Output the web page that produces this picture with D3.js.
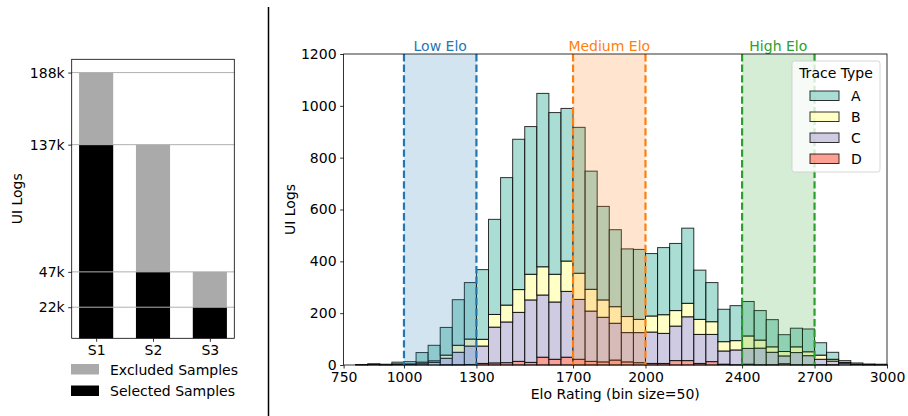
<!DOCTYPE html>
<html>
<head>
<meta charset="utf-8">
<script src="https://cdn.jsdelivr.net/npm/d3@7"></script>
<style>
  body { margin: 0; background: #fff; }
  svg text { font-family: "DejaVu Sans", sans-serif; fill: #000; }
</style>
</head>
<body>
<div id="chart"></div>
<script>
// ---- left panel data ----
var sampleNames = ["S1", "S2", "S3"];
var selectedLogs = [137000, 47000, 22000];
var totalLogs = [188000, 137000, 47000];
var leftTicks = [22000, 47000, 137000, 188000];
var leftTickLabels = ["22k", "47k", "137k", "188k"];
var leftLegend = ["Excluded Samples", "Selected Samples"];

// ---- right panel data (elo histogram, bin size 50) ----
var binStart = [800, 850, 900, 950, 1000, 1050, 1100, 1150, 1200, 1250, 1300, 1350, 1400, 1450, 1500,
    1550, 1600, 1650, 1700, 1750, 1800, 1850, 1900, 1950, 2000, 2050, 2100, 2150, 2200, 2250,
    2300, 2350, 2400, 2450, 2500, 2550, 2600, 2650, 2700, 2750, 2800, 2850, 2900, 2950];
var traceA = [1, 3, 2, 7, 9, 37, 60, 107, 176, 218, 269, 367, 492, 580, 570,
    669, 624, 589, 563, 456, 361, 297, 261, 270, 241, 259, 259, 290, 190, 151,
    125, 135, 133, 114, 105, 65, 72, 88, 48, 27, 7, 5, 2, 2];
var traceB = [0, 0, 0, 1, 1, 6, 6, 12, 27, 27, 26, 49, 65, 88, 99,
    109, 107, 117, 101, 84, 67, 64, 62, 51, 62, 72, 60, 52, 58, 49,
    36, 36, 48, 31, 21, 17, 22, 15, 16, 7, 3, 1, 1, 0];
var traceC = [1, 2, 1, 3, 3, 5, 10, 25, 48, 71, 67, 138, 157, 189, 241,
    240, 221, 254, 231, 194, 172, 142, 113, 116, 121, 116, 133, 169, 112, 105,
    51, 57, 61, 64, 48, 30, 47, 35, 21, 14, 7, 2, 1, 1];
var traceD = [0, 0, 0, 0, 0, 0, 0, 1, 1, 2, 6, 8, 9, 14, 10,
    30, 22, 30, 22, 14, 12, 19, 12, 9, 6, 6, 17, 17, 6, 13,
    3, 1, 3, 1, 1, 5, 1, 1, 1, 1, 0, 0, 0, 0];
var traceKeys = ["A", "B", "C", "D"];
var traceColors = ["#8dd3c7", "#ffffb3", "#bebada", "#fb8072"];
var eloBands = ["Low Elo", "Medium Elo", "High Elo"];
var bandFrom = [1000, 1700, 2400];
var bandTo = [1300, 2000, 2700];
var bandColors = ["#1f77b4", "#ff7f0e", "#2ca02c"];
var eloTicks = [750, 1000, 1300, 1700, 2000, 2400, 2700, 3000];
var countTicks = [0, 200, 400, 600, 800, 1000, 1200];

var W = 908, H = 416, fs = 14;

var svg = d3.select("#chart").append("svg")
    .attr("width", W)
    .attr("height", H);

// ================= left panel =================
var L = {left: 71.7, right: 234.3, top: 59.3, bottom: 338.3};

var lx = d3.scaleLinear().domain([-0.43, 2.43]).range([L.left, L.right]);
var ly = d3.scaleLinear().domain([0, 188000 * 1.05]).range([L.bottom, L.top]);
var barW = lx(0.6) - lx(0);

var left = svg.append("g");

sampleNames.forEach(function (s, i) {
    left.append("rect")
        .attr("x", lx(i) - barW / 2)
        .attr("y", ly(totalLogs[i]))
        .attr("width", barW)
        .attr("height", ly(selectedLogs[i]) - ly(totalLogs[i]))
        .attr("fill", "#aaaaaa");
    left.append("rect")
        .attr("x", lx(i) - barW / 2)
        .attr("y", ly(selectedLogs[i]))
        .attr("width", barW)
        .attr("height", ly(0) - ly(selectedLogs[i]))
        .attr("fill", "#000");
});

// grid on top of bars
left.append("g").selectAll("line")
    .data(leftTicks)
    .enter().append("line")
    .attr("x1", L.left).attr("x2", L.right)
    .attr("y1", function (d) { return ly(d); })
    .attr("y2", function (d) { return ly(d); })
    .attr("stroke", "#b0b0b0")
    .attr("stroke-width", 1);

var lyAxis = left.append("g")
    .attr("transform", "translate(" + L.left + ",0)")
    .call(d3.axisLeft(ly).tickValues(leftTicks)
        .tickFormat(function (d, i) { return leftTickLabels[i]; })
        .tickSize(3.5).tickPadding(3.5));
var lxAxis = left.append("g")
    .attr("transform", "translate(0," + L.bottom + ")")
    .call(d3.axisBottom(lx).tickValues([0, 1, 2])
        .tickFormat(function (d) { return sampleNames[d]; })
        .tickSize(3.5).tickPadding(3.5));
[lyAxis, lxAxis].forEach(function (a) {
    a.select(".domain").remove();
    a.selectAll("text").style("font-size", fs + "px").style("font-family", "DejaVu Sans");
    a.selectAll("line").attr("stroke", "#000").attr("stroke-width", 0.8);
});

left.append("rect")
    .attr("x", L.left).attr("y", L.top)
    .attr("width", L.right - L.left).attr("height", L.bottom - L.top)
    .attr("fill", "none").attr("stroke", "#000").attr("stroke-width", 0.8);

left.append("text")
    .attr("transform", "translate(22," + ((L.top + L.bottom) / 2) + ") rotate(-90)")
    .attr("text-anchor", "middle")
    .style("font-size", fs + "px")
    .text("UI Logs");

leftLegend.forEach(function (t, i) {
    var yy = 364 + i * 21.5;
    left.append("rect")
        .attr("x", 71).attr("y", yy)
        .attr("width", 28).attr("height", 10.5)
        .attr("fill", i == 0 ? "#aaaaaa" : "#000");
    left.append("text")
        .attr("x", 110).attr("y", yy + 10.5)
        .style("font-size", fs + "px")
        .text(t);
});

// divider
svg.append("line")
    .attr("x1", 268.5).attr("x2", 268.5)
    .attr("y1", 7).attr("y2", H)
    .attr("stroke", "#000").attr("stroke-width", 1.5);

// ================= right panel =================
var R = {left: 343.6, right: 887, top: 54, bottom: 365};
var rx = d3.scaleLinear().domain([750, 3000]).range([R.left, R.right]);
var ry = d3.scaleLinear().domain([0, 1200]).range([R.bottom, R.top]);

var rows = binStart.map(function (b, i) {
    return {bin: b, A: traceA[i], B: traceB[i], C: traceC[i], D: traceD[i]};
});
// stacked bottom to top: D, C, B, A
var stacked = d3.stack().keys(["D", "C", "B", "A"])(rows);
var colorOf = d3.scaleOrdinal().domain(traceKeys).range(traceColors);

var right = svg.append("g");

stacked.forEach(function (layer) {
    right.append("g").selectAll("rect")
        .data(layer)
        .enter().append("rect")
        .attr("x", function (d) { return rx(d.data.bin); })
        .attr("width", function (d) { return rx(d.data.bin + 50) - rx(d.data.bin); })
        .attr("y", function (d) { return ry(d[1]); })
        .attr("height", function (d) { return ry(d[0]) - ry(d[1]); })
        .attr("fill", colorOf(layer.key))
        .attr("fill-opacity", 0.75)
        .attr("stroke", "#000")
        .attr("stroke-opacity", 0.8)
        .attr("stroke-width", 1);
});

// elo bands on top of bars
eloBands.forEach(function (name, i) {
    right.append("rect")
        .attr("x", rx(bandFrom[i])).attr("y", R.top)
        .attr("width", rx(bandTo[i]) - rx(bandFrom[i]))
        .attr("height", R.bottom - R.top)
        .attr("fill", bandColors[i]).attr("fill-opacity", 0.2);
    [bandFrom[i], bandTo[i]].forEach(function (v) {
        right.append("line")
            .attr("x1", rx(v)).attr("x2", rx(v))
            .attr("y1", R.top).attr("y2", R.bottom)
            .attr("stroke", bandColors[i])
            .attr("stroke-width", 2.2)
            .attr("stroke-dasharray", "7.4,3.2");
    });
    right.append("text")
        .attr("x", rx((bandFrom[i] + bandTo[i]) / 2))
        .attr("y", R.top - 3.5)
        .attr("text-anchor", "middle")
        .style("font-size", fs + "px")
        .style("fill", bandColors[i])
        .text(name);
});

var ryAxis = right.append("g")
    .attr("transform", "translate(" + R.left + ",0)")
    .call(d3.axisLeft(ry).tickValues(countTicks).tickFormat(d3.format("d"))
        .tickSize(3.5).tickPadding(3.5));
var rxAxis = right.append("g")
    .attr("transform", "translate(0," + R.bottom + ")")
    .call(d3.axisBottom(rx).tickValues(eloTicks).tickFormat(d3.format("d"))
        .tickSize(3.5).tickPadding(3.5));
[ryAxis, rxAxis].forEach(function (a) {
    a.select(".domain").remove();
    a.selectAll("text").style("font-size", fs + "px").style("font-family", "DejaVu Sans");
    a.selectAll("line").attr("stroke", "#000").attr("stroke-width", 0.8);
});

right.append("rect")
    .attr("x", R.left).attr("y", R.top)
    .attr("width", R.right - R.left).attr("height", R.bottom - R.top)
    .attr("fill", "none").attr("stroke", "#000").attr("stroke-width", 0.8);

right.append("text")
    .attr("transform", "translate(295," + ((R.top + R.bottom) / 2) + ") rotate(-90)")
    .attr("text-anchor", "middle")
    .style("font-size", fs + "px")
    .text("UI Logs");

right.append("text")
    .attr("x", (R.left + R.right) / 2).attr("y", 399)
    .attr("text-anchor", "middle")
    .style("font-size", fs + "px")
    .text("Elo Rating (bin size=50)");

// legend
var lg = right.append("g").attr("transform", "translate(792,61)");
lg.append("rect")
    .attr("width", 88).attr("height", 111)
    .attr("rx", 2.5)
    .attr("fill", "#fff").attr("fill-opacity", 0.8)
    .attr("stroke", "#cccccc").attr("stroke-width", 0.8);
lg.append("text")
    .attr("x", 44).attr("y", 17)
    .attr("text-anchor", "middle")
    .style("font-size", fs + "px")
    .text("Trace Type");
traceKeys.forEach(function (k, i) {
    var yy = 30 + i * 21;
    lg.append("rect")
        .attr("x", 18).attr("y", yy)
        .attr("width", 29).attr("height", 9.5)
        .attr("fill", colorOf(k)).attr("fill-opacity", 0.75)
        .attr("stroke", "#000").attr("stroke-opacity", 0.8).attr("stroke-width", 1);
    lg.append("text")
        .attr("x", 59).attr("y", yy + 9.5)
        .style("font-size", fs + "px")
        .text(k);
});
</script>
</body>
</html>
